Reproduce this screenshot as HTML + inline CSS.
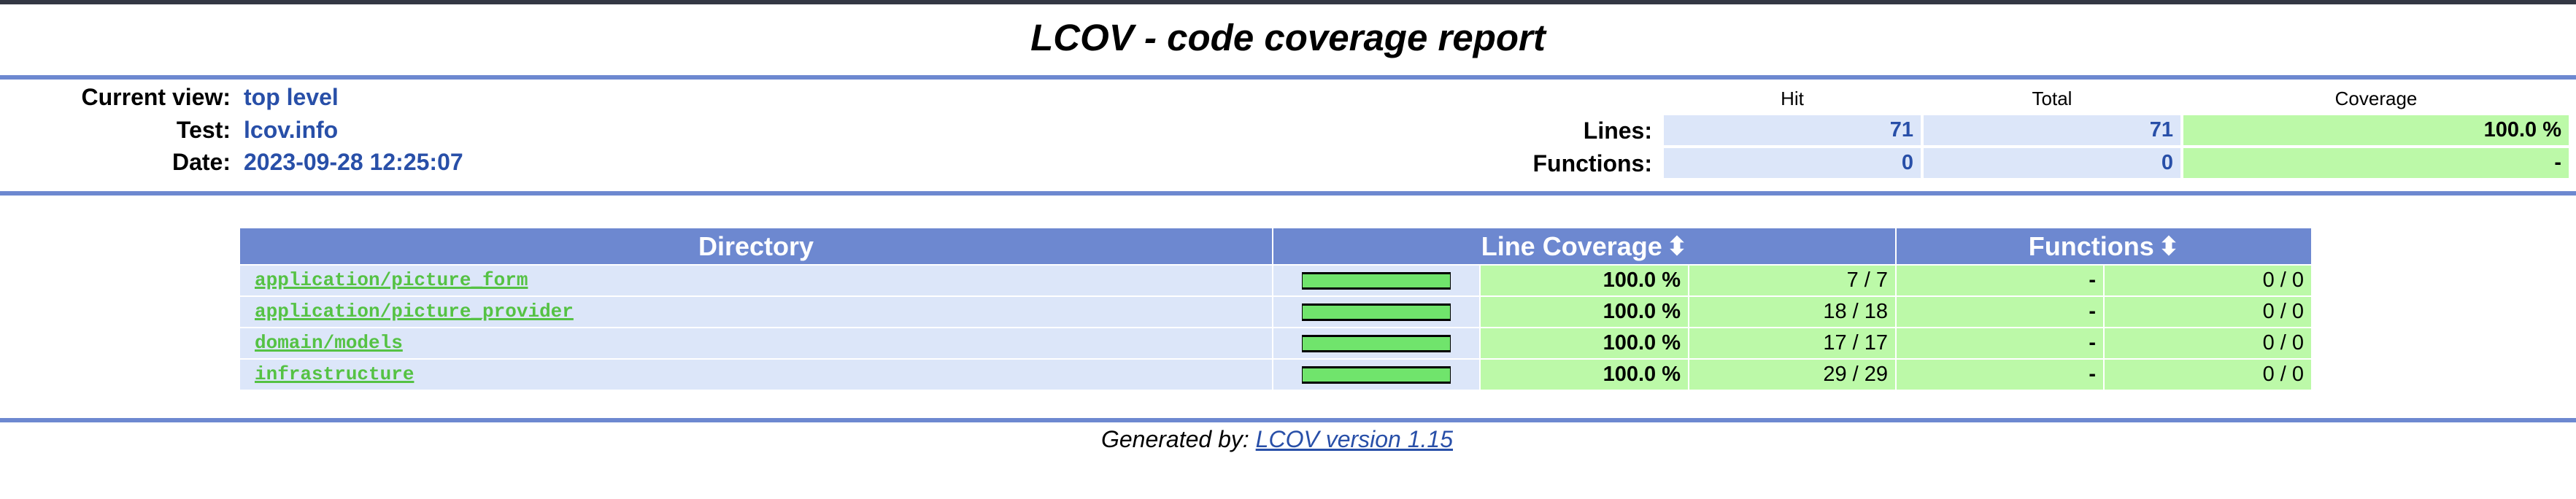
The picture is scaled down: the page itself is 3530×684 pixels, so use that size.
<!DOCTYPE html>
<html><head><meta charset="utf-8"><style>
*{margin:0;padding:0;box-sizing:border-box}
body{width:3530px;height:684px;background:#fff;position:relative;overflow:hidden;font-family:"Liberation Sans",Arial,sans-serif}
.a{position:absolute}
.bl{position:absolute;left:0;width:3530px;height:6px;background:#6d88d0}
.lab{position:absolute;font-weight:bold;font-size:32px;text-align:right;color:#000;line-height:40px}
.val{position:absolute;font-weight:bold;font-size:32px;color:#284fa8;line-height:40px}
.c{position:absolute;display:flex;align-items:center;justify-content:flex-end;padding-right:10px;font-weight:bold;font-size:29px}
.blue{background:#dce6f9;color:#284fa8}
.grn{background:#bcf9a8;color:#000}
.hd{position:absolute;background:#6d88d0;color:#fff;font-weight:bold;font-size:36px;display:flex;align-items:center;justify-content:center}
.row{position:absolute;background:#dce6f9}
.lnk{position:absolute;font-family:"Liberation Mono",monospace;font-size:26px;color:#55c244;text-decoration:underline;text-decoration-thickness:3px;line-height:41px;font-weight:bold}
.bar{position:absolute;left:1784px;width:204px;height:24px;background:#70e46c;border-top:3px solid #000;border-bottom:3px solid #000;border-left:1px solid #000;border-right:1px solid #000}
.n{position:absolute;display:flex;align-items:center;justify-content:flex-end;padding-right:10px;font-size:29px;background:#bcf9a8;color:#000}
.b{font-weight:bold}
.ar{font-size:34px;margin-left:6px}
</style></head><body>
<div class="a" style="left:0;top:0;width:3530px;height:6px;background:#333744"></div>
<div class="a" style="left:0;top:22px;width:3530px;text-align:center;font-size:51px;font-weight:bold;font-style:italic;line-height:60px">LCOV - code coverage report</div>
<div class="bl" style="top:103px"></div>

<div class="lab" style="left:0;width:316px;top:113px">Current view:</div>
<div class="val" style="left:334px;top:113px">top level</div>
<div class="lab" style="left:0;width:316px;top:158px">Test:</div>
<div class="val" style="left:334px;top:158px">lcov.info</div>
<div class="lab" style="left:0;width:316px;top:202px">Date:</div>
<div class="val" style="left:334px;top:202px">2023-09-28 12:25:07</div>

<div class="a" style="left:2280px;width:352px;top:120px;text-align:center;font-size:26px">Hit</div>
<div class="a" style="left:2636px;width:352px;top:120px;text-align:center;font-size:26px">Total</div>
<div class="a" style="left:2992px;width:528px;top:120px;text-align:center;font-size:26px">Coverage</div>
<div class="lab" style="left:1900px;width:364px;top:159px">Lines:</div>
<div class="lab" style="left:1900px;width:364px;top:204px">Functions:</div>
<div class="c blue" style="left:2280px;width:352px;top:158px;height:41px">71</div>
<div class="c blue" style="left:2636px;width:352px;top:158px;height:41px">71</div>
<div class="c grn" style="left:2992px;width:528px;top:158px;height:41px">100.0 %</div>
<div class="c blue" style="left:2280px;width:352px;top:203px;height:41px">0</div>
<div class="c blue" style="left:2636px;width:352px;top:203px;height:41px">0</div>
<div class="c grn" style="left:2992px;width:528px;top:203px;height:41px">-</div>

<div class="bl" style="top:262px"></div>

<div class="hd" style="left:329px;width:1414px;top:313px;height:49px">Directory</div>
<div class="hd" style="left:1745px;width:852px;top:313px;height:49px">Line Coverage <span class="ar">⬍</span></div>
<div class="hd" style="left:2599px;width:568px;top:313px;height:49px">Functions <span class="ar">⬍</span></div>

<div class="row" style="left:329px;width:1414px;top:364px;height:41px"></div>
<div class="row" style="left:1745px;width:282px;top:364px;height:41px"></div>
<div class="lnk" style="left:349px;top:364px">application/picture_form</div>
<div class="bar" style="top:373px"></div>
<div class="n b" style="left:2029px;width:284px;top:364px;height:41px">100.0 %</div>
<div class="n" style="left:2315px;width:282px;top:364px;height:41px">7 / 7</div>
<div class="n b" style="left:2599px;width:283px;top:364px;height:41px">-</div>
<div class="n" style="left:2884px;width:283px;top:364px;height:41px">0 / 0</div>

<div class="row" style="left:329px;width:1414px;top:407px;height:41px"></div>
<div class="row" style="left:1745px;width:282px;top:407px;height:41px"></div>
<div class="lnk" style="left:349px;top:407px">application/picture_provider</div>
<div class="bar" style="top:416px"></div>
<div class="n b" style="left:2029px;width:284px;top:407px;height:41px">100.0 %</div>
<div class="n" style="left:2315px;width:282px;top:407px;height:41px">18 / 18</div>
<div class="n b" style="left:2599px;width:283px;top:407px;height:41px">-</div>
<div class="n" style="left:2884px;width:283px;top:407px;height:41px">0 / 0</div>

<div class="row" style="left:329px;width:1414px;top:450px;height:41px"></div>
<div class="row" style="left:1745px;width:282px;top:450px;height:41px"></div>
<div class="lnk" style="left:349px;top:450px">domain/models</div>
<div class="bar" style="top:459px"></div>
<div class="n b" style="left:2029px;width:284px;top:450px;height:41px">100.0 %</div>
<div class="n" style="left:2315px;width:282px;top:450px;height:41px">17 / 17</div>
<div class="n b" style="left:2599px;width:283px;top:450px;height:41px">-</div>
<div class="n" style="left:2884px;width:283px;top:450px;height:41px">0 / 0</div>

<div class="row" style="left:329px;width:1414px;top:493px;height:41px"></div>
<div class="row" style="left:1745px;width:282px;top:493px;height:41px"></div>
<div class="lnk" style="left:349px;top:493px">infrastructure</div>
<div class="bar" style="top:502px"></div>
<div class="n b" style="left:2029px;width:284px;top:493px;height:41px">100.0 %</div>
<div class="n" style="left:2315px;width:282px;top:493px;height:41px">29 / 29</div>
<div class="n b" style="left:2599px;width:283px;top:493px;height:41px">-</div>
<div class="n" style="left:2884px;width:283px;top:493px;height:41px">0 / 0</div>

<div class="bl" style="top:573px"></div>
<div class="a" style="left:0;width:3500px;top:583px;text-align:center;font-size:32px;font-style:italic;line-height:38px">Generated by: <span style="color:#284fa8;text-decoration:underline">LCOV version 1.15</span></div>
</body></html>
